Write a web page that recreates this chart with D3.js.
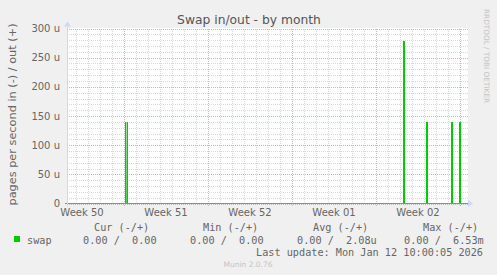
<!DOCTYPE html>
<html>
<head>
<meta charset="utf-8">
<script src="https://cdn.jsdelivr.net/npm/d3@7"></script>
<style>
  body { margin: 0; background: #f0f0f0; }
  svg { display: block; }
  text { white-space: pre; }
</style>
</head>
<body>
<svg></svg>
<script>
// data
const yTicks = [0, 50, 100, 150, 200, 250, 300];
const yTickLabels = ["0", "50 u", "100 u", "150 u", "200 u", "250 u", "300 u"];
const weekLabels = ["Week 50", "Week 51", "Week 52", "Week 01", "Week 02"];
const weekMidpoints = ["2025-12-11T12:00Z", "2025-12-18T12:00Z", "2025-12-25T12:00Z", "2026-01-01T12:00Z", "2026-01-08T12:00Z"];
const spikeStart = ["2025-12-15T01:00Z", "2026-01-07T05:00Z", "2026-01-09T04:00Z", "2026-01-11T05:00Z", "2026-01-11T21:00Z"];
const spikeEnd = ["2025-12-15T08:00Z", "2026-01-07T09:00Z", "2026-01-09T08:00Z", "2026-01-11T09:00Z", "2026-01-12T01:00Z"];
const spikeValue = [140, 278, 140, 140, 140];
const legendHeaders = ["Cur (-/+)", "Min (-/+)", "Avg (-/+)", "Max (-/+)"];
const legendValues = ["0.00 /  0.00", "0.00 /  0.00", "0.00 /  2.08u", "0.00 /  6.53m"];

const width = 497, height = 275;
const plotLeft = 67, plotRight = 467, plotTop = 28.5, plotBottom = 203.5;

const svg = d3.select("svg").attr("width", width).attr("height", height);

svg.append("rect").attr("width", width).attr("height", height).attr("fill", "#f0f0f0");

const x = d3.scaleUtc()
    .domain([new Date("2025-12-10T06:00Z"), new Date("2026-01-12T14:00Z")])
    .range([plotLeft, plotRight]);
const y = d3.scaleLinear().domain([0, 300]).range([plotBottom, plotTop]);

// canvas
svg.append("rect")
    .attr("x", plotLeft).attr("y", plotTop - 0.5)
    .attr("width", plotRight - plotLeft + 1).attr("height", plotBottom - plotTop + 0.5)
    .attr("fill", "#ffffff");

const grid = svg.append("g").attr("shape-rendering", "crispEdges");

// minor grid: every 10 u and every day
d3.range(0, 301, 10).filter(v => v % 50 !== 0).forEach(v => {
    grid.append("line")
        .attr("x1", plotLeft).attr("x2", plotRight + 1)
        .attr("y1", Math.round(y(v)) + 0.5).attr("y2", Math.round(y(v)) + 0.5)
        .attr("stroke", "#d9d9d9").attr("stroke-dasharray", "1,1");
});
const days = d3.utcDay.range(x.domain()[0], x.domain()[1]);
days.filter(d => d.getUTCDay() !== 1).forEach(d => {
    const px = Math.round(x(d)) + 0.5;
    grid.append("line")
        .attr("x1", px).attr("x2", px)
        .attr("y1", plotTop).attr("y2", plotBottom)
        .attr("stroke", "#d9d9d9").attr("stroke-dasharray", "1,1");
});

// major grid
yTicks.forEach(v => {
    grid.append("line")
        .attr("x1", plotLeft).attr("x2", plotRight + 1)
        .attr("y1", Math.round(y(v)) + 0.5).attr("y2", Math.round(y(v)) + 0.5)
        .attr("stroke", "#efa8a8").attr("stroke-dasharray", "1,1");
});
days.filter(d => d.getUTCDay() === 1).forEach(d => {
    const px = Math.round(x(d)) + 0.5;
    grid.append("line")
        .attr("x1", px).attr("x2", px)
        .attr("y1", plotTop).attr("y2", plotBottom + 3)
        .attr("stroke", "#efa8a8").attr("stroke-dasharray", "1,1");
});

// spikes
const defs = svg.append("defs");
const grad = defs.append("linearGradient")
    .attr("id", "spikeFill").attr("x1", 0).attr("y1", 0).attr("x2", 0).attr("y2", 1);
grad.append("stop").attr("offset", "0%").attr("stop-color", "#9be89b");
grad.append("stop").attr("offset", "100%").attr("stop-color", "#4fd04f");

const spikes = spikeValue.map((v, i) => ({ start: new Date(spikeStart[i]), end: new Date(spikeEnd[i]), value: v }));

const sg = svg.append("g").attr("shape-rendering", "crispEdges");
sg.selectAll(".fill").data(spikes).enter().append("rect")
    .attr("x", d => Math.round(x(d.start)))
    .attr("y", d => Math.round(y(d.value)))
    .attr("width", d => Math.round(x(d.end)) - Math.round(x(d.start)))
    .attr("height", d => Math.round(plotBottom) - Math.round(y(d.value)))
    .attr("fill", "url(#spikeFill)");
sg.selectAll(".l").data(spikes).enter().append("line")
    .attr("x1", d => Math.round(x(d.start)) + 0.5).attr("x2", d => Math.round(x(d.start)) + 0.5)
    .attr("y1", d => Math.round(y(d.value))).attr("y2", plotBottom)
    .attr("stroke", "#00cc00").attr("stroke-width", 1);
sg.selectAll(".r").data(spikes).enter().append("line")
    .attr("x1", d => Math.round(x(d.end)) - 0.5).attr("x2", d => Math.round(x(d.end)) - 0.5)
    .attr("y1", d => Math.round(y(d.value))).attr("y2", plotBottom)
    .attr("stroke", "#00cc00").attr("stroke-width", 1);

// axes
svg.append("line")
    .attr("x1", plotLeft - 2).attr("x2", plotRight + 2)
    .attr("y1", plotBottom).attr("y2", plotBottom)
    .attr("stroke", "#878aa0").attr("shape-rendering", "crispEdges");
svg.append("line")
    .attr("x1", plotLeft + 0.5).attr("x2", plotLeft + 0.5)
    .attr("y1", plotTop - 2).attr("y2", plotBottom + 2)
    .attr("stroke", "#cfd6f8").attr("shape-rendering", "crispEdges");
svg.append("path")
    .attr("d", `M${plotRight + 1},${plotBottom - 3.5}L${plotRight + 6},${plotBottom}L${plotRight + 1},${plotBottom + 3.5}Z`)
    .attr("fill", "#cfd6f8");
svg.append("path")
    .attr("d", `M${plotLeft - 3},${plotTop - 2}L${plotLeft + 0.5},${plotTop - 7}L${plotLeft + 4},${plotTop - 2}Z`)
    .attr("fill", "#cfd6f8");

const font = "DejaVu Sans, sans-serif";
const mono = "DejaVu Sans Mono, monospace";

// y tick labels
svg.selectAll(".ytick").data(yTicks).enter().append("text")
    .attr("x", plotLeft - 7).attr("y", d => y(d) + 3.5)
    .attr("text-anchor", "end")
    .style("font-family", font).style("font-size", "10px").attr("fill", "#666")
    .text((d, i) => yTickLabels[i]);

// x labels
svg.selectAll(".xtick").data(weekLabels).enter().append("text")
    .attr("x", (d, i) => x(new Date(weekMidpoints[i])))
    .attr("y", 216)
    .attr("text-anchor", "middle")
    .style("font-family", font).style("font-size", "10px").attr("fill", "#666")
    .text(d => d);

// title
svg.append("text")
    .attr("x", 249).attr("y", 23.5).attr("text-anchor", "middle")
    .style("font-family", font).style("font-size", "12.3px").attr("fill", "#555")
    .text("Swap in/out - by month");

// y axis title
svg.append("text")
    .attr("transform", "translate(15.5,114.5) rotate(-90)")
    .attr("text-anchor", "middle")
    .style("font-family", font).style("font-size", "11.3px").attr("fill", "#666")
    .text("pages per second in (-) / out (+)");

// watermark
svg.append("text")
    .attr("transform", "translate(484,56) rotate(90)")
    .attr("text-anchor", "middle")
    .style("font-family", font).style("font-size", "7.3px").attr("fill", "#c4c4c4")
    .text("RRDTOOL / TOBI OETIKER");

// legend
const headerX = [94, 203, 313, 423];
const valueX = [83, 190, 297, 404];
svg.selectAll(".lh").data(legendHeaders).enter().append("text")
    .attr("x", (d, i) => headerX[i]).attr("y", 231)
    .style("font-family", mono).style("font-size", "10.2px").attr("fill", "#666")
    .text(d => d);
svg.append("rect").attr("x", 14).attr("y", 236).attr("width", 6).attr("height", 6).attr("fill", "#00cc00");
svg.append("text")
    .attr("x", 27).attr("y", 244)
    .style("font-family", mono).style("font-size", "10.2px").attr("fill", "#666")
    .text("swap");
svg.selectAll(".lv").data(legendValues).enter().append("text")
    .attr("x", (d, i) => valueX[i]).attr("y", 244)
    .style("font-family", mono).style("font-size", "10.2px").attr("fill", "#666")
    .text(d => d);
svg.append("text")
    .attr("x", 483).attr("y", 256).attr("text-anchor", "end")
    .style("font-family", mono).style("font-size", "10.2px").attr("fill", "#666")
    .text("Last update: Mon Jan 12 10:00:05 2026");
svg.append("text")
    .attr("x", 248).attr("y", 267).attr("text-anchor", "middle")
    .style("font-family", font).style("font-size", "7.5px").attr("fill", "#c4c4c4")
    .text("Munin 2.0.76");
</script>
</body>
</html>
